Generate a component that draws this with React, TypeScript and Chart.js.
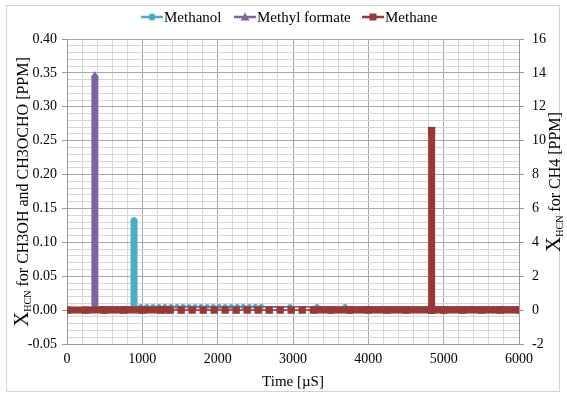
import { useEffect, useRef } from 'react';
import { Chart, registerables } from 'chart.js';
Chart.register(...registerables);

// ---------- data ----------
const seriesNames = ['Methanol', 'Methyl formate', 'Methane'];

const xTickLabels = ['0', '1000', '2000', '3000', '4000', '5000', '6000'];
const leftTickLabels = ['-0.05', '0.00', '0.05', '0.10', '0.15', '0.20', '0.25', '0.30', '0.35', '0.40'];
const rightTickLabels = ['-2', '0', '2', '4', '6', '8', '10', '12', '14', '16'];

// Methanol (left axis)
const methanolTime = [0, 890, 890, 890, 980, 1060, 1140, 1220, 1300, 1380, 1460, 1540, 1620, 1700, 1780, 1860, 1940, 2020, 2100, 2180, 2260, 2340, 2420, 2500, 2580, 2960, 3320, 3690, 3760, 6000];
const methanolValue = [0, 0, 0.132, 0.005, 0.005, 0.005, 0.005, 0.005, 0.005, 0.005, 0.005, 0.005, 0.005, 0.005, 0.005, 0.005, 0.005, 0.005, 0.005, 0.005, 0.005, 0.005, 0.005, 0.005, 0.005, 0.005, 0.005, 0.005, 0, 0];

// Methyl formate (left axis)
const methylTime = [0, 370, 370, 370, 570, 770, 970, 1170, 1370, 1570, 1770, 1970, 2170, 2370, 2570, 2770, 2970, 3170, 3370, 3570, 3770, 3970, 4170, 4370, 4570, 4770, 4970, 5170, 5370, 5570, 5770, 6000];
const methylValue = [0, 0, 0.346, 0.005, 0.005, 0.005, 0.005, 0.005, 0.005, 0.005, 0.005, 0.005, 0.005, 0.005, 0.005, 0.005, 0.005, 0.005, 0.005, 0.005, 0.005, 0.005, 0.005, 0.005, 0.005, 0.005, 0.005, 0.005, 0.005, 0.005, 0.005, 0.005];

// Methane (right axis)
const methaneTime = [0, 250, 500, 750, 1000, 1250, 1370, 1516, 1662, 1808, 1954, 2100, 2246, 2392, 2538, 2684, 2830, 2976, 3122, 3270, 3500, 3750, 4000, 4250, 4500, 4840, 4840, 4840, 5000, 5250, 5500, 5750, 6000];
const methaneValue = [0, 0, 0, 0, 0, 0, 0, 0, 0, 0, 0, 0, 0, 0, 0, 0, 0, 0, 0, 0, 0, 0, 0, 0, 0, 0, 10.6, 0, 0, 0, 0, 0, 0];
const methaneSparseFrom = 1370;
const methaneSparseTo = 3270;

// ---------- styles ----------
const C_TEAL = '#4BACC6';
const C_PURPLE = '#8064A2';
const C_RED = '#983936';
const FONT = "'Liberation Serif', 'Times New Roman', serif";
const GRID_MAJOR = '#a8a8a8';
const GRID_MINOR = '#d6d6d6';

const W = 567;
const H = 396;
const AREA = { left: 67, right: 519, top: 39, bottom: 344 };

const toPts = (xs: number[], ys: number[]) => xs.map((x, i) => ({ x, y: ys[i] }));

const isMult = (v: number, step: number) => Math.abs(Math.round(v / step) * step - v) < 1e-7;

function drawTitle(ctx: CanvasRenderingContext2D, cx: number, cy: number, rest: string) {
  ctx.save();
  ctx.translate(cx, cy);
  ctx.rotate(-Math.PI / 2);
  ctx.fillStyle = '#000';
  ctx.textBaseline = 'alphabetic';
  ctx.textAlign = 'left';
  const fX = `21px ${FONT}`;
  const fSub = `10px ${FONT}`;
  const fMain = `16px ${FONT}`;
  ctx.font = fX;
  const wX = ctx.measureText('X').width;
  ctx.font = fSub;
  const wS = ctx.measureText('HCN').width;
  ctx.font = fMain;
  const wR = ctx.measureText(rest).width;
  const total = wX + wS + wR;
  let x = -total / 2;
  const base = 6;
  ctx.font = fX;
  ctx.fillText('X', x, base);
  x += wX;
  ctx.font = fSub;
  ctx.fillText('HCN', x, base + 3);
  x += wS;
  ctx.font = fMain;
  ctx.fillText(rest, x, base);
  ctx.restore();
}

function drawMarker(ctx: CanvasRenderingContext2D, kind: string, x: number, y: number, color: string) {
  ctx.fillStyle = color;
  ctx.beginPath();
  if (kind === 'circle') {
    ctx.arc(x, y, 3.5, 0, Math.PI * 2);
  } else if (kind === 'triangle') {
    ctx.moveTo(x, y - 4.5);
    ctx.lineTo(x + 4.5, y + 3.5);
    ctx.lineTo(x - 4.5, y + 3.5);
    ctx.closePath();
  } else {
    ctx.rect(x - 3.5, y - 3.5, 7, 7);
  }
  ctx.fill();
}

const decorPlugin = {
  id: 'decor',
  beforeDraw(chart: any) {
    const ctx = chart.ctx as CanvasRenderingContext2D;
    ctx.save();
    ctx.fillStyle = '#fff';
    ctx.fillRect(0, 0, W, H);
    ctx.strokeStyle = '#d4d4d4';
    ctx.lineWidth = 1;
    ctx.strokeRect(6.5, 5.5, 553, 386);
    ctx.restore();
  },
  afterDraw(chart: any) {
    const ctx = chart.ctx as CanvasRenderingContext2D;
    ctx.save();
    // legend
    const items = [
      { name: seriesNames[0], color: C_TEAL, kind: 'circle', x: 141 },
      { name: seriesNames[1], color: C_PURPLE, kind: 'triangle', x: 234 },
      { name: seriesNames[2], color: C_RED, kind: 'rect', x: 362 },
    ];
    const ly = 17;
    ctx.font = `15px ${FONT}`;
    ctx.textBaseline = 'middle';
    ctx.textAlign = 'left';
    for (const it of items) {
      ctx.strokeStyle = it.color;
      ctx.lineWidth = 2.5;
      ctx.beginPath();
      ctx.moveTo(it.x, ly);
      ctx.lineTo(it.x + 22, ly);
      ctx.stroke();
      drawMarker(ctx, it.kind, it.x + 11, ly, it.color);
      ctx.fillStyle = '#000';
      ctx.fillText(it.name, it.x + 23, ly + 1);
    }
    ctx.restore();
    drawTitle(ctx, 22, 192, ' for CH3OH and CH3OCHO [PPM]');
    drawTitle(ctx, 554, 182, ' for CH4 [PPM]');
  },
};

export default function App() {
  const ref = useRef<HTMLCanvasElement | null>(null);
  useEffect(() => {
    if (!ref.current) return;
    const thinOrThick = (thick: number, thin: number) => (c: any) =>
      c.p0.parsed.x === c.p1.parsed.x ? thick : thin;
    const chart = new Chart(ref.current, {
      type: 'line',
      data: {
        datasets: [
          {
            label: seriesNames[0],
            data: toPts(methanolTime, methanolValue),
            yAxisID: 'y',
            borderColor: C_TEAL,
            backgroundColor: C_TEAL,
            borderWidth: 1.5,
            pointStyle: 'circle',
            pointRadius: (c: any) => (c.raw && c.raw.y > 0.05 ? 3.5 : 2.6),
            pointBorderWidth: 0,
            tension: 0,
            order: 2,
            segment: { borderWidth: thinOrThick(7, 1.5) },
          },
          {
            label: seriesNames[1],
            data: toPts(methylTime, methylValue),
            yAxisID: 'y',
            borderColor: C_PURPLE,
            backgroundColor: C_PURPLE,
            borderWidth: 1.5,
            pointStyle: 'triangle',
            pointRadius: (c: any) => (c.raw && c.raw.y > 0.05 ? 4.5 : 1.5),
            pointBorderWidth: 0,
            tension: 0,
            order: 1,
            segment: { borderWidth: thinOrThick(7, 1.5) },
          },
          {
            label: seriesNames[2],
            data: toPts(methaneTime, methaneValue),
            yAxisID: 'y1',
            borderColor: C_RED,
            backgroundColor: C_RED,
            borderWidth: 7,
            pointStyle: 'rect',
            pointRadius: 5.2,
            pointBorderWidth: 0,
            tension: 0,
            order: 0,
            segment: {
              borderWidth: (c: any) => {
                const a = c.p0.parsed.x;
                const b = c.p1.parsed.x;
                if (a === b) return 7;
                return a >= methaneSparseFrom && b <= methaneSparseTo ? 1.5 : 7;
              },
            },
          },
        ],
      },
      options: {
        responsive: false,
        animation: false,
        events: [],
        layout: { padding: { top: AREA.top, left: 0, right: 0, bottom: 0 } },
        plugins: { legend: { display: false }, tooltip: { enabled: false }, title: { display: false } },
        scales: {
          x: {
            type: 'linear',
            min: 0,
            max: 6000,
            afterFit: (s: any) => { s.height = H - AREA.bottom; },
            ticks: {
              stepSize: 200,
              autoSkip: false,
              maxRotation: 0,
              minRotation: 0,
              padding: 7,
              color: '#000',
              font: { family: FONT, size: 14 },
              callback: (v: any) => (isMult(Number(v), 1000) ? xTickLabels[Math.round(Number(v) / 1000)] : ''),
            },
            grid: {
              drawTicks: false,
              color: (c: any) => (isMult(c.tick.value, 1000) ? GRID_MAJOR : GRID_MINOR),
              lineWidth: 1,
            },
            border: { color: '#999' },
            title: { display: true, text: 'Time [µS]', color: '#000', font: { family: FONT, size: 15 }, padding: { top: 0, bottom: 5 } },
          },
          y: {
            type: 'linear',
            position: 'left',
            min: -0.05,
            max: 0.4,
            afterFit: (s: any) => { s.width = AREA.left; },
            ticks: {
              stepSize: 0.01,
              autoSkip: false,
              padding: 5,
              color: '#000',
              font: { family: FONT, size: 14 },
              callback: (v: any) => (isMult(Number(v), 0.05) ? leftTickLabels[Math.round((Number(v) + 0.05) / 0.05)] : ''),
            },
            grid: {
              tickLength: 5,
              color: (c: any) => (isMult(c.tick.value, 0.05) ? GRID_MAJOR : GRID_MINOR),
              tickColor: (c: any) => (isMult(c.tick.value, 0.05) ? '#999' : 'rgba(0,0,0,0)'),
              lineWidth: 1,
            },
            border: { color: '#999' },
          },
          y1: {
            type: 'linear',
            position: 'right',
            min: -2,
            max: 16,
            afterFit: (s: any) => { s.width = W - AREA.right; },
            ticks: {
              stepSize: 2,
              autoSkip: false,
              padding: 8,
              color: '#000',
              font: { family: FONT, size: 14 },
              callback: (v: any) => rightTickLabels[Math.round((Number(v) + 2) / 2)],
            },
            grid: { drawOnChartArea: false, tickLength: 5, color: '#999' },
            border: { color: '#999' },
          },
        },
      },
      plugins: [decorPlugin],
    } as any);
    return () => chart.destroy();
  }, []);
  return (
    <div style={{ position: 'fixed', left: 0, top: 0, width: W, height: H, background: '#fff' }}>
      <canvas ref={ref} width={W} height={H} style={{ display: 'block', width: W, height: H }} />
    </div>
  );
}
